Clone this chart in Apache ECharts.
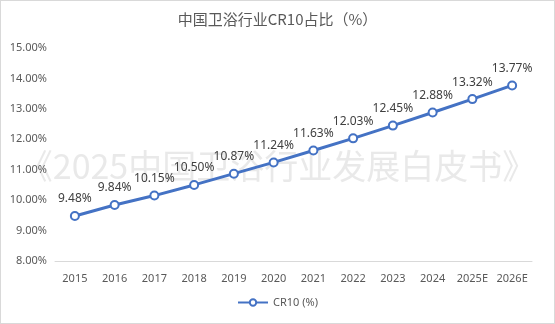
<!DOCTYPE html>
<html><head><meta charset="utf-8">
<script src="https://cdn.jsdelivr.net/npm/echarts@6/dist/echarts.min.js"></script>
<style>html,body{margin:0;padding:0;background:#fff}#c{width:555px;height:324px;box-sizing:border-box;border:1px solid #d9d9d9}</style>
</head><body><div id="c"></div>
<script>
const categories = ['2015','2016','2017','2018','2019','2020','2021','2022','2023','2024','2025E','2026E'];
const cr10 = [9.48,9.84,10.15,10.50,10.87,11.24,11.63,12.03,12.45,12.88,13.32,13.77];
const seriesName = 'CR10 (%)';
const titleText = '中国卫浴行业CR10占比（%）';
const watermark = '《2025中国卫浴行业发展白皮书》';
const font = '"Noto Sans", "Noto Sans CJK SC", sans-serif';
const chart = echarts.init(document.getElementById('c'));
chart.setOption({
  animation:false,
  title:{text:titleText,left:'center',top:6,textStyle:{fontSize:15,fontWeight:'normal',color:'#595959',fontFamily:'"Noto Sans CJK SC", sans-serif'}},
  graphic:[{type:'text',left:'center',top:148,z:0,silent:true,style:{text:watermark,fontSize:34,fill:'rgba(200,200,200,0.4)',fontFamily:'"Noto Sans CJK SC", sans-serif'}}],
  legend:{bottom:10,left:'center',itemWidth:30,itemHeight:8,data:[seriesName],textStyle:{fontSize:11,color:'#595959',fontFamily:font}},
  grid:{left:54,right:22,top:47,bottom:62},
  xAxis:{type:'category',data:categories,boundaryGap:true,axisLine:{lineStyle:{color:'#d9d9d9'}},axisTick:{show:false},axisLabel:{interval:0,color:'#595959',fontSize:11,margin:12,fontFamily:font}},
  yAxis:{type:'value',min:8,max:15,interval:1,axisLine:{show:false},axisTick:{show:false},splitLine:{show:false},axisLabel:{color:'#595959',fontSize:11,margin:8,fontFamily:font,formatter:v=>v.toFixed(2)+'%'}},
  series:[{name:seriesName,type:'line',data:cr10,z:5,symbol:'emptyCircle',symbolSize:8,lineStyle:{color:'#4472C4',width:3},itemStyle:{color:'#4472C4',borderWidth:2},
    label:{show:true,position:'top',distance:6,color:'#404040',fontSize:12,fontFamily:font,formatter:p=>p.value.toFixed(2)+'%'}}]
});
</script></body></html>
